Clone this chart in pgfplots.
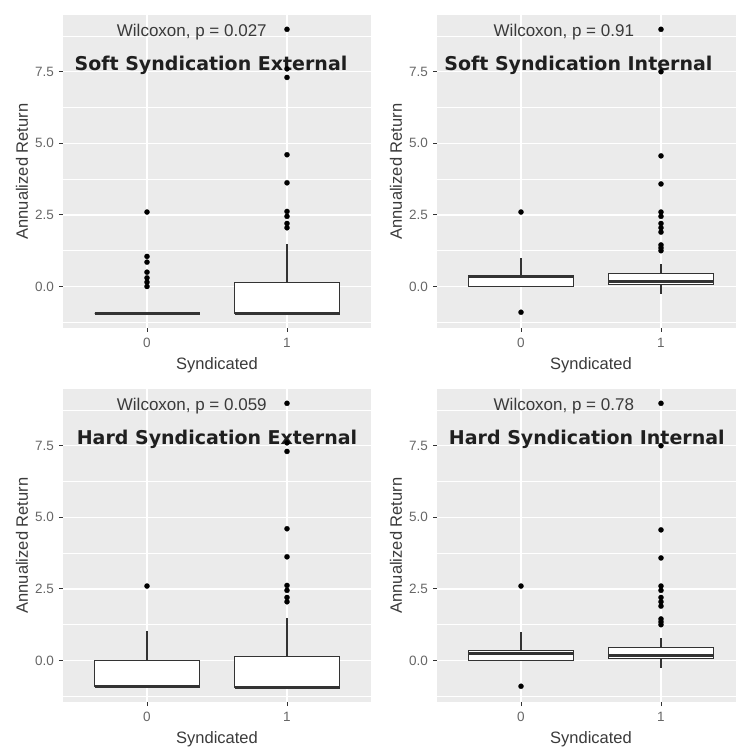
\documentclass[border=0pt]{standalone}
\usepackage{fontspec}
\setmainfont{Liberation Sans}
\newfontfamily\titlefont{DejaVu Sans}
\usepackage{pgfplots}
\pgfplotsset{compat=1.18}
\usepgfplotslibrary{statistics}
\definecolor{bggrey}{HTML}{EBEBEB}
\definecolor{tickgrey}{HTML}{333333}
\definecolor{labgrey}{HTML}{666666}
\definecolor{txtgrey}{HTML}{3A3A3A}
\tikzset{
 wil/.style={font=\fontsize{17}{18}\selectfont, text=txtgrey, anchor=center},
 ttl/.style={font=\titlefont\bfseries\fontsize{19}{21}\selectfont, text=black!88, anchor=center},
}
\pgfplotsset{
 panel/.style={
  scale only axis, width=308pt, height=313pt, anchor=south west,
  xmin=-0.6, xmax=1.6, ymin=-1.45, ymax=9.48,
  axis background/.style={fill=bggrey},
  axis line style={draw=none},
  xtick={0,1}, xticklabels={0,1},
  ytick={0,2.5,5,7.5}, yticklabels={0.0,2.5,5.0,7.5},
  minor ytick={-1.25,1.25,3.75,6.25,8.75},
  xtick pos=bottom, ytick pos=left,
  grid=both,
  major grid style={white, line width=1.4pt},
  minor grid style={white, line width=0.7pt},
  tick align=outside, major tick length=4pt, minor tick length=0pt,
  tick style={tickgrey, line width=1pt},
  ticklabel style={font=\fontsize{13.5}{14}\selectfont, text=labgrey},
  xticklabel style={yshift=-3pt},
  yticklabel style={xshift=-1.5pt},
  /pgf/number format/assume math mode=true,
  xlabel={Syndicated}, ylabel={Annualized Return},
  every axis x label/.style={at={(rel axis cs:0.5,0)}, anchor=center, yshift=-37pt},
  every axis y label/.style={at={(rel axis cs:0,0.5)}, anchor=center, xshift=-41pt, rotate=90},
  label style={font=\fontsize{16.5}{18}\selectfont, text=txtgrey},
  boxplot/draw direction=y,
  boxplot/box extend=0.75,
  boxplot/whisker extend=0,
  boxplot/every median/.style={line width=3.2pt},
 },
 bx/.style={draw=tickgrey, line width=1.2pt, fill=white, solid,
  mark=*, mark size=2.6pt, mark options={fill=black, draw=black, line width=0.2pt}},
}
\begin{document}
\begin{tikzpicture}
\useasboundingbox (0,0) rectangle (736pt,748pt);
\clip (0,0) rectangle (736pt,748pt);
% ---------------- top left
\begin{axis}[panel, at={(63pt,420pt)}]
\addplot[bx, boxplot prepared={draw position=0, lower whisker=-0.93, lower quartile=-0.93, median=-0.93, upper quartile=-0.93, upper whisker=-0.93}]
 table[row sep=\\, y index=0]{v\\ 2.6\\ 1.05\\ 0.85\\ 0.5\\ 0.3\\ 0.15\\ 0.0\\};
\addplot[bx, boxplot prepared={draw position=1, lower whisker=-0.93, lower quartile=-0.93, median=-0.93, upper quartile=0.15, upper whisker=1.5}]
 table[row sep=\\, y index=0]{v\\ 2.05\\ 2.2\\ 2.45\\ 2.62\\ 3.62\\ 4.6\\ 7.3\\ 7.6\\ 8.98\\};
\node[wil] at (axis cs:0.32,8.88) {Wilcoxon, p = 0.027};
\node[ttl] at (axis cs:0.457,7.73) {Soft Syndication External};
\end{axis}
% ---------------- top right
\begin{axis}[panel, at={(437pt,420pt)}]
\addplot[bx, boxplot prepared={draw position=0, lower whisker=0.0, lower quartile=0.0, median=0.35, upper quartile=0.38, upper whisker=1.0}]
 table[row sep=\\, y index=0]{v\\ 2.6\\ -0.9\\};
\addplot[bx, boxplot prepared={draw position=1, lower whisker=-0.28, lower quartile=0.08, median=0.17, upper quartile=0.45, upper whisker=0.78}]
 table[row sep=\\, y index=0]{v\\ 1.25\\ 1.35\\ 1.45\\ 1.9\\ 2.05\\ 2.2\\ 2.45\\ 2.6\\ 3.58\\ 4.56\\ 7.5\\ 8.98\\};
\node[wil] at (axis cs:0.306,8.88) {Wilcoxon, p = 0.91};
\node[ttl] at (axis cs:0.41,7.73) {Soft Syndication Internal};
\end{axis}
% ---------------- bottom left
\begin{axis}[panel, at={(63pt,46pt)}]
\addplot[bx, boxplot prepared={draw position=0, lower whisker=-0.92, lower quartile=-0.92, median=-0.92, upper quartile=0.0, upper whisker=1.04}]
 table[row sep=\\, y index=0]{v\\ 2.6\\};
\addplot[bx, boxplot prepared={draw position=1, lower whisker=-0.93, lower quartile=-0.93, median=-0.93, upper quartile=0.15, upper whisker=1.47}]
 table[row sep=\\, y index=0]{v\\ 2.05\\ 2.2\\ 2.45\\ 2.62\\ 3.62\\ 4.6\\ 7.3\\ 7.6\\ 8.98\\};
\node[wil] at (axis cs:0.32,8.87) {Wilcoxon, p = 0.059};
\node[ttl] at (axis cs:0.5,7.71) {Hard Syndication External};
\end{axis}
% ---------------- bottom right
\begin{axis}[panel, at={(437pt,46pt)}]
\addplot[bx, boxplot prepared={draw position=0, lower whisker=0.0, lower quartile=0.0, median=0.25, upper quartile=0.36, upper whisker=1.0}]
 table[row sep=\\, y index=0]{v\\ 2.6\\ -0.9\\};
\addplot[bx, boxplot prepared={draw position=1, lower whisker=-0.28, lower quartile=0.08, median=0.17, upper quartile=0.45, upper whisker=0.78}]
 table[row sep=\\, y index=0]{v\\ 1.25\\ 1.35\\ 1.45\\ 1.9\\ 2.05\\ 2.2\\ 2.45\\ 2.6\\ 3.58\\ 4.56\\ 7.5\\ 8.98\\};
\node[wil] at (axis cs:0.306,8.87) {Wilcoxon, p = 0.78};
\node[ttl] at (axis cs:0.47,7.71) {Hard Syndication Internal};
\end{axis}
\end{tikzpicture}
\end{document}
